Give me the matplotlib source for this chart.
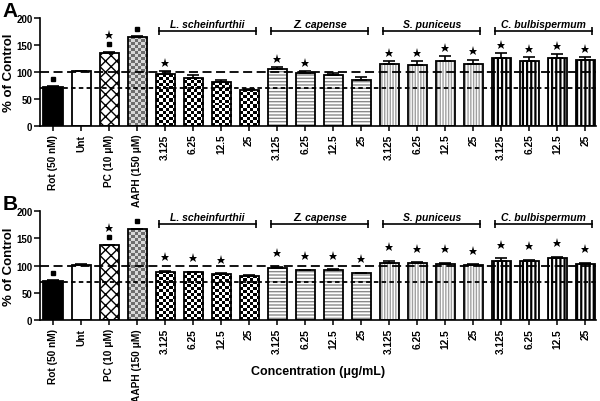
import numpy as np
import matplotlib
matplotlib.use('Agg')
import matplotlib.pyplot as plt
from matplotlib.colors import ListedColormap

plt.rcParams['font.family'] = ['Liberation Sans', 'DejaVu Sans']
plt.rcParams['font.weight'] = 'bold'
plt.rcParams['axes.labelweight'] = 'bold'

# ---- data ----
labels = ['Rot (50 nM)', 'Unt', 'PC (10 μM)', 'AAPH (150 μM)'] + ['3.125', '6.25', '12.5', '25'] * 4
species = ['L. scheinfurthii', 'Z. capense', 'S. puniceus', 'C. bulbispermum']

mean_a = [72, 101, 136, 165,
          96, 89, 81, 67,
          105, 98, 94, 86,
          114, 113.5, 121, 114,
          126, 120, 126.5, 122]
sd_a = [1.5, 1.5, 1.5, 1.5,
        6, 5, 4, 2,
        4, 4, 5, 5,
        6, 6, 9, 9,
        9, 7, 7, 6]

mean_b = [72, 101, 137, 166,
          89, 87.5, 84.5, 81.5,
          96, 91.5, 91.5, 85.5,
          105.5, 104, 103, 101,
          108, 108, 113, 102.5]
sd_b = [1, 1, 1, 1.5,
        1, 1, 1, 1,
        1.5, 1, 1.5, 1,
        3, 2, 1.5, 1,
        5, 2, 3, 3]

star_a = [0, 0, 1, 0, 1, 0, 0, 0, 1, 1, 0, 0, 1, 1, 1, 1, 1, 1, 1, 1]
star_b = [0, 0, 1, 0, 1, 1, 1, 0, 1, 1, 1, 1, 1, 1, 1, 1, 1, 1, 1, 1]
square = [1, 0, 1, 1] + [0] * 16


def checker(ax, rect, c0, c1, cx, cy):
    x0 = rect.get_x()
    w = rect.get_width()
    h = rect.get_height()
    nx = max(1, int(round(w / cx)))
    ny = max(1, int(round(h / cy)))
    arr = np.indices((ny, nx)).sum(axis=0) % 2
    im = ax.imshow(arr, extent=(x0, x0 + w, 0, h), origin='lower',
                   cmap=ListedColormap([c0, c1]), interpolation='nearest',
                   aspect='auto', zorder=2)
    im.set_clip_path(rect)


def draw_panel(ax, mean, sd, stars, star_off):
    x = np.arange(len(mean))
    mean = np.array(mean, dtype=float)
    sd = np.array(sd, dtype=float)
    w = 0.68

    # fills
    ax.bar(x[0], mean[0], w, color='black', zorder=1)
    ax.bar(x[1], mean[1], w, color='white', zorder=1)
    ax.bar(x[2], mean[2], w, color='white', edgecolor='black', hatch='xxx', linewidth=0, zorder=1)
    r = ax.bar(x[3], mean[3], w, color='white', zorder=1)
    checker(ax, r[0], '#6e6e6e', '#d8d8d8', 0.11, 5.5)
    rs = ax.bar(x[4:8], mean[4:8], w, color='white', zorder=1)
    for p in rs:
        checker(ax, p, 'black', 'white', 0.11, 5.5)
    ax.bar(x[8:12], mean[8:12], w, color='white', edgecolor='#8a8a8a', hatch='-----', linewidth=0, zorder=1)
    ax.bar(x[12:16], mean[12:16], w, color='white', edgecolor='#a0a0a0', hatch='||||||', linewidth=0, zorder=1)
    plt.rcParams['hatch.linewidth'] = 1.6
    cb = ax.bar(x[16:20], mean[16:20], w, color='white', edgecolor='black', hatch='||||', linewidth=0, zorder=1)
    for p in cb:
        if hasattr(p, 'set_hatch_linewidth'):
            p.set_hatch_linewidth(1.6)
    plt.rcParams['hatch.linewidth'] = 1.0

    # outlines
    ax.bar(x, mean, w, fill=False, edgecolor='black', linewidth=1.3, zorder=3)
    ax.errorbar(x, mean, yerr=[np.zeros_like(sd), sd], fmt='none', ecolor='black',
                elinewidth=1.2, capsize=4, capthick=1.2, zorder=3)

    top = mean + sd
    for i in range(len(mean)):
        if square[i]:
            ax.plot(x[i], top[i] + 14, marker='s', ms=3, color='black', zorder=5)
        if stars[i]:
            yy = top[i] + 31 if square[i] else top[i] + star_off
            ax.plot(x[i], yy, marker='*', ms=6.5, color='black', mew=0, zorder=5)

    ax.axhline(100, color='black', lw=1.3, dashes=(5, 2.5), zorder=4)
    ax.axhline(70, color='black', lw=1.3, dashes=(2.5, 1.8), zorder=4)

    # species brackets
    for g, name in enumerate(species):
        s = 4 + 4 * g
        xs = [x[s] - 0.22, x[s + 3] + 0.25]
        ax.plot(xs, [176, 176], color='black', lw=1.2, marker='|', ms=6, mew=1.2, zorder=5)
        ax.text(np.mean(xs), 180, name, ha='center', va='bottom', fontsize=7.5,
                fontstyle='italic', fontweight='bold')

    ax.set_xlim(-0.464, 19.39)
    ax.set_ylim(0, 200)
    ax.set_yticks([0, 50, 100, 150, 200])
    ax.set_xticks(x)
    ax.set_xticklabels(labels, rotation=90, fontsize=7.3, fontweight='bold')
    ax.tick_params(axis='y', labelsize=7, length=4, width=1.1, pad=1.5)
    ax.tick_params(axis='x', length=3.5, width=1.1, pad=2)
    for side in ['top', 'right']:
        ax.spines[side].set_visible(False)
    for side in ['left', 'bottom']:
        ax.spines[side].set_linewidth(1.2)
    ax.set_ylabel('% of Control', fontsize=9.5)
    ax.yaxis.set_label_coords(-0.045, 0.5)


fig = plt.figure(figsize=(6, 4.02), dpi=100)
ax_a = fig.add_axes([0.0667, 0.684, 0.927, 0.2687])
ax_b = fig.add_axes([0.0667, 0.2007, 0.927, 0.2726])

draw_panel(ax_a, mean_a, sd_a, star_a, 15)
draw_panel(ax_b, mean_b, sd_b, star_b, 25)

fig.text(0.53, 1 - 372 / 402, 'Concentration (μg/mL)', fontsize=9, fontweight='bold',
         ha='center', va='center')

fig.text(0.004, 0.995, 'A', fontsize=15, fontweight='bold', va='top', ha='left')
fig.text(0.004, 0.515, 'B', fontsize=15, fontweight='bold', va='top', ha='left')

fig.savefig('out.png', dpi=100)
